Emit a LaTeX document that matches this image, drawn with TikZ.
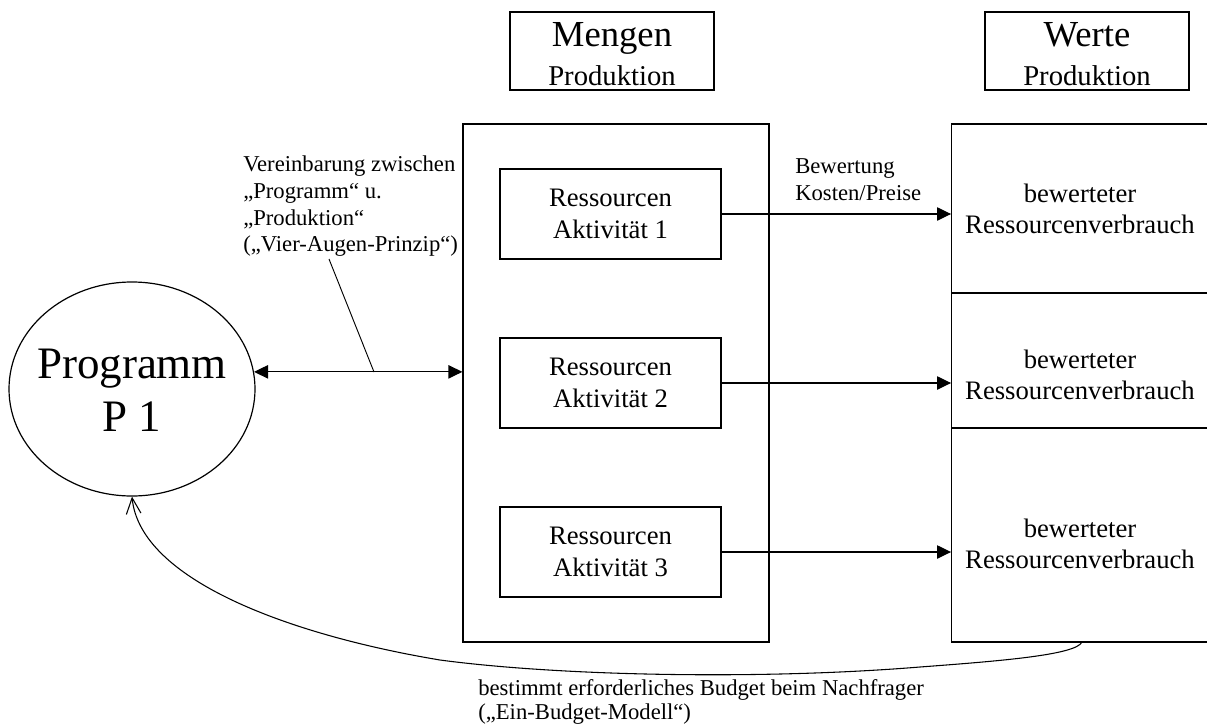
\documentclass[tikz,border=0pt]{standalone}
\usepackage{fontspec}
\setmainfont{Liberation Serif}
\usetikzlibrary{arrows.meta,shapes.geometric,calc}
\begin{document}
\begin{tikzpicture}[x=0.75pt,y=-0.75pt,
  >={Triangle[length=10.5pt,width=10pt]},
  lw/.style={line width=0.9pt},
  box/.style={draw, lw, inner sep=0pt, align=center},
  hdrbox/.style={box, minimum width=153pt, minimum height=58.5pt},
  hdrtext/.style={align=center, inner sep=0pt, font=\fontsize{27.5}{29.25}\selectfont},
  innerbox/.style={box, minimum width=165.75pt, minimum height=67.5pt, font=\fontsize{20}{24}\selectfont},
  cellbox/.style={draw, lw, inner sep=0pt, minimum width=194pt},
  celltext/.style={align=center, inner sep=0pt, font=\fontsize{20}{23}\selectfont},
  lab/.style={align=left, inner sep=0pt, anchor=north west},
]
\useasboundingbox (0,0) rectangle (1207,725);

% header boxes
\node[hdrbox] (mengen) at (612,51) {};
\node[hdrtext] (mengent) at ([yshift=-2.7pt]mengen.center) {Mengen\\{\fontsize{21.5}{29.25}\selectfont Produktion}};
\node[hdrbox] (werte) at (1087,51) {};
\node[hdrtext] (wertet) at ([yshift=-2.7pt]werte.center) {Werte\\{\fontsize{21.5}{29.25}\selectfont Produktion}};

% middle box
\node[box, minimum width=229.5pt, minimum height=388.5pt] (mid) at (616,383) {};
\node[innerbox] (r1) at (610.5,214) {Ressourcen\\Aktivität 1};
\node[innerbox] (r2) at (610.5,383) {Ressourcen\\Aktivität 2};
\node[innerbox] (r3) at (610.5,552) {Ressourcen\\Aktivität 3};

% right column
\node[cellbox, minimum height=126.75pt] (c1) at (1081,208.5) {};
\node[cellbox, minimum height=101.25pt] (c2) at (1081,360.5) {};
\node[cellbox, minimum height=160.5pt] (c3) at (1081,535) {};
\node[celltext] (t1) at (1080,209) {bewerteter\\Ressourcenverbrauch};
\node[celltext] (t2) at (1080,375) {bewerteter\\Ressourcenverbrauch};
\node[celltext] (t3) at (1080,544) {bewerteter\\Ressourcenverbrauch};

\draw[lw,->] (r1.east) -- (r1.east -| c1.west);
\draw[lw,->] (r2.east) -- (r2.east -| c2.west);
\draw[lw,->] (r3.east) -- (r3.east -| c3.west);

\node[lab, font=\fontsize{17}{20.25}\selectfont] (bew) at (795,158) {Bewertung\\Kosten/Preise};

% programme ellipse
\node[draw, lw, ellipse, minimum width=184.5pt, minimum height=160.5pt, inner sep=0pt] (prog) at (132,389) {};
\node[align=center, inner sep=0pt, font=\fontsize{33.75}{39.75}\selectfont] (progtext) at (132,390) {Programm\\P 1};

\draw[lw,<->] (prog.8) -- (prog.8 -| mid.west);

\node[lab, font=\fontsize{17}{20}\selectfont] (ver) at (243,156) {Vereinbarung zwischen\\„Programm“ u.\\„Produktion“\\(„Vier-Augen-Prinzip“)};
\coordinate (vl) at (329,259);
\coordinate (vj) at (374,372);
\draw[line width=0.7pt] (vl) -- (vj);

% feedback curve
\coordinate (cs) at (1082,642);
\draw[line width=0.8pt,-{Straight Barb[length=12pt,width=11pt]}] (cs)
  .. controls (1076,655) and (1000,661) .. (920,667)
  .. controls (760,680) and (560,676) .. (440,660)
  .. controls (290,635) and (140,580) .. (prog.south);

\node[lab, font=\fontsize{17}{18}\selectfont] (bud) at (478,679) {bestimmt erforderliches Budget beim Nachfrager\\(„Ein-Budget-Modell“)};
\end{tikzpicture}
\end{document}
